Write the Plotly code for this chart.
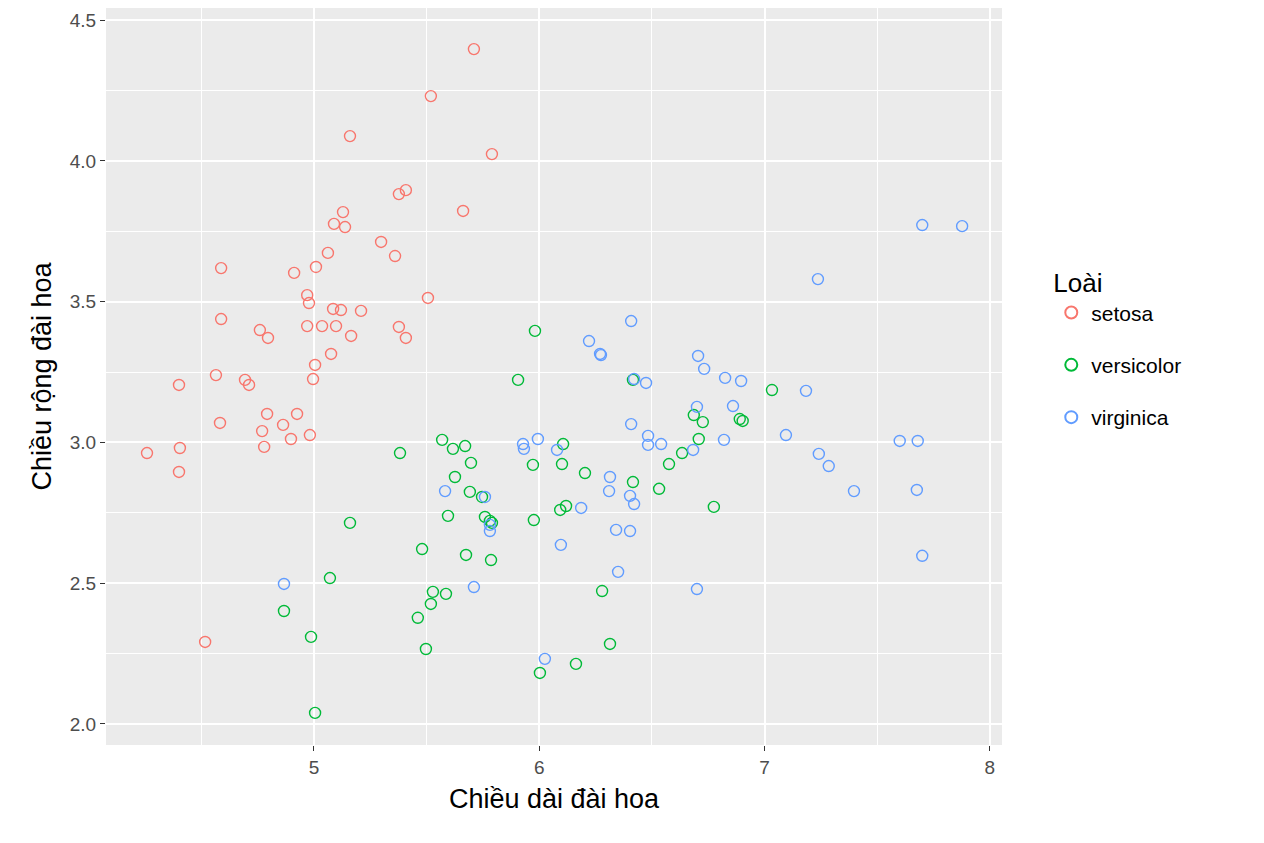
import plotly.graph_objects as go

setosa_x = [5.710, 5.519, 5.160, 5.790, 5.408, 5.377, 5.662, 5.129, 5.138, 5.089,
            5.298, 5.360, 5.062, 5.009, 4.912, 4.588, 4.970, 4.978, 5.506, 4.588,
            5.085, 5.120, 5.209, 4.760, 4.796, 4.970, 5.036, 5.098, 5.377, 5.165,
            5.408, 5.005, 5.076, 4.996, 4.565, 4.401, 4.694, 4.712, 4.792, 4.925,
            4.583, 4.863, 4.770, 4.898, 4.982, 4.779, 4.405, 4.259, 4.401, 4.517]
setosa_y = [4.397, 4.230, 4.088, 4.024, 3.896, 3.882, 3.822, 3.818, 3.765, 3.776,
            3.712, 3.662, 3.673, 3.623, 3.602, 3.619, 3.523, 3.495, 3.513, 3.438,
            3.474, 3.470, 3.467, 3.399, 3.371, 3.413, 3.413, 3.413, 3.410, 3.378,
            3.371, 3.275, 3.314, 3.225, 3.239, 3.204, 3.222, 3.204, 3.101, 3.101,
            3.069, 3.062, 3.040, 3.012, 3.026, 2.984, 2.980, 2.962, 2.895, 2.291]

versicolor_x = [5.981, 5.906, 7.033, 6.416, 6.686, 6.726, 6.708, 6.890, 6.903, 6.634,
                6.576, 6.106, 5.569, 5.671, 5.617, 5.382, 5.697, 5.972, 6.101, 6.203,
                5.626, 6.416, 5.692, 5.746, 6.532, 5.595, 5.759, 5.781, 5.790, 5.160,
                5.976, 6.119, 6.093, 6.775, 5.480, 5.675, 5.786, 5.071, 5.528, 5.586,
                5.519, 6.279, 5.461, 4.867, 4.987, 5.497, 6.314, 6.163, 6.003, 5.005]
versicolor_y = [3.396, 3.222, 3.186, 3.222, 3.097, 3.072, 3.012, 3.083, 3.076, 2.962,
                2.923, 2.994, 3.009, 2.987, 2.977, 2.962, 2.927, 2.920, 2.923, 2.891,
                2.877, 2.859, 2.824, 2.806, 2.835, 2.739, 2.735, 2.721, 2.714, 2.714,
                2.724, 2.774, 2.760, 2.771, 2.621, 2.600, 2.582, 2.518, 2.469, 2.462,
                2.426, 2.472, 2.377, 2.401, 2.309, 2.266, 2.284, 2.213, 2.181, 2.039]

virginica_x = [7.700, 7.877, 7.237, 6.408, 6.221, 6.270, 6.274, 6.705, 6.732, 6.421,
               6.474, 6.825, 6.896, 7.184, 6.700, 6.860, 6.408, 7.095, 6.483, 5.994,
               5.928, 5.932, 6.483, 6.541, 6.079, 6.683, 7.241, 7.600, 7.680, 7.285,
               6.314, 5.582, 5.759, 6.310, 6.403, 6.421, 6.186, 7.397, 7.676, 6.820,
               5.781, 5.781, 6.341, 6.403, 6.096, 6.350, 5.710, 4.867, 6.700, 7.700,
               6.025]
virginica_y = [3.772, 3.768, 3.580, 3.431, 3.360, 3.314, 3.310, 3.307, 3.261, 3.225,
               3.211, 3.229, 3.218, 3.183, 3.126, 3.129, 3.065, 3.026, 3.023, 3.012,
               2.994, 2.977, 2.991, 2.994, 2.973, 2.973, 2.959, 3.005, 3.005, 2.916,
               2.877, 2.827, 2.806, 2.827, 2.810, 2.781, 2.767, 2.827, 2.831, 3.009,
               2.707, 2.685, 2.689, 2.685, 2.636, 2.540, 2.486, 2.497, 2.479, 2.597,
               2.231]

species = ["setosa", "versicolor", "virginica"]
colors = ["#F8766D", "#00BA38", "#619CFF"]
xs = [setosa_x, versicolor_x, virginica_x]
ys = [setosa_y, versicolor_y, virginica_y]

fig = go.Figure()
for name, col, x, y in zip(species, colors, xs, ys):
    fig.add_trace(go.Scatter(
        x=x, y=y, mode="markers", name=name, legendgroup=name,
        marker=dict(symbol="circle-open", size=11, color=col, line=dict(width=1.4)),
    ))

fig.update_layout(
    width=1264, height=843,
    margin=dict(l=98, r=270, t=0, b=106),
    paper_bgcolor="white",
    plot_bgcolor="#EBEBEB",
    font=dict(family="Liberation Sans, Arial", color="#4D4D4D", size=16),
    legend=dict(
        title=dict(text="Loài", font=dict(size=26, color="black")),
        x=1.055, y=0.66, xanchor="left", yanchor="top",
        font=dict(size=21, color="black"),
        itemsizing="constant", tracegroupgap=22,
    ),
)
fig.update_xaxes(
    range=[4.077, 8.054], tickvals=[5, 6, 7, 8], ticktext=["5", "6", "7", "8"],
    showgrid=True, gridcolor="white", gridwidth=2, zeroline=False, automargin=False,
    ticks="outside", ticklen=5, tickcolor="#333333", tickfont=dict(size=19),
    minor=dict(tickvals=[4.5, 5.5, 6.5, 7.5], showgrid=True, gridcolor="white", gridwidth=1, ticks=""),
    title=dict(text="Chiều dài đài hoa", font=dict(size=27, color="black"), standoff=12),
)
fig.update_yaxes(
    range=[1.925, 4.543], tickvals=[2.0, 2.5, 3.0, 3.5, 4.0, 4.5],
    ticktext=["2.0", "2.5", "3.0", "3.5", "4.0", "4.5"],
    showgrid=True, gridcolor="white", gridwidth=2, zeroline=False, automargin=False,
    ticks="outside", ticklen=5, tickcolor="#333333", tickfont=dict(size=19),
    minor=dict(tickvals=[2.25, 2.75, 3.25, 3.75, 4.25], showgrid=True, gridcolor="white", gridwidth=1, ticks=""),
    title=dict(text="Chiều rộng đài hoa", font=dict(size=27, color="black"), standoff=10),
)

fig.write_html("out.html")
